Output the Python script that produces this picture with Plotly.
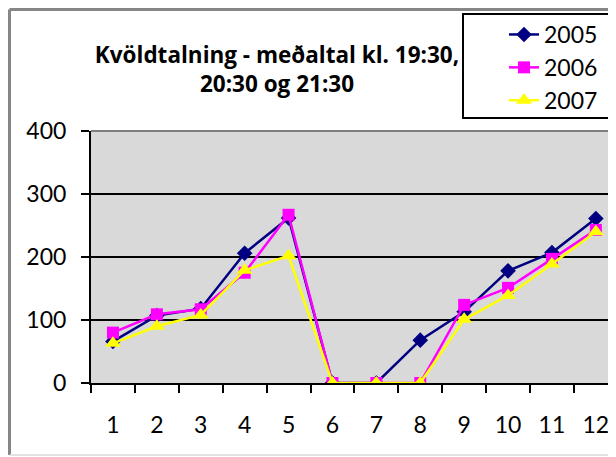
import plotly.graph_objects as go

months = [1, 2, 3, 4, 5, 6, 7, 8, 9, 10, 11, 12]
tick_labels = ["1", "2", "3", "4", "5", "6", "7", "8", "9", "10", "11", "12"]
s2005 = [66, 107, 118, 206, 262, 0, 0, 68, 113, 178, 207, 261]
s2006 = [80, 109, 117, 175, 267, 0, 0, 0, 124, 151, 197, 243]
s2007 = [63, 90, 108, 179, 202, 0, 0, 0, 101, 139, 189, 240]
y_ticks = [0, 100, 200, 300, 400]

# page body has an 8px margin: figure coordinates = page coordinates - 8
OFF = 8
W, H = 616 - OFF, 457 - OFF
L, T = 91 - OFF, 131 - OFF
R = 0
B = H - (383 - OFF)
PW, PH = W - L - R, H - T - B
CAT = 43.9


def px(x):
    return (x - OFF - L) / PW


def py(y):
    return (H - B - (y - OFF)) / PH


FONT = "Lato"

fig = go.Figure()
series = [
    ("2005", s2005, "#000080", "diamond", 12),
    ("2006", s2006, "#FF00FF", "square", 12),
    ("2007", s2007, "#FFFF00", "triangle-up", 14),
]
for name, vals, col, sym, size in series:
    fig.add_trace(go.Scatter(
        x=months, y=vals, name=name, mode="lines+markers",
        legendgroup=name,
        line=dict(color=col, width=2.5),
        marker=dict(symbol=sym, size=size, color=col, line=dict(width=0)),
    ))

shapes = [
    # outer chart border (as close to the page edge as the body margin allows)
    dict(type="line", xref="paper", yref="paper", x0=px(9.5), x1=px(630), y0=py(9.5), y1=py(9.5),
         line=dict(color="#868686", width=3)),
    dict(type="line", xref="paper", yref="paper", x0=px(9.5), x1=px(9.5), y0=py(9.5), y1=py(455),
         line=dict(color="#868686", width=3)),
    dict(type="line", xref="paper", yref="paper", x0=px(9.5), x1=px(630), y0=py(455), y1=py(455),
         line=dict(color="#d8d8d8", width=1.5)),
    # top edge of plot area
    dict(type="line", xref="paper", yref="paper", x0=0, x1=1, y0=1, y1=1,
         line=dict(color="#808080", width=2), layer="above"),
    # legend box
    dict(type="rect", xref="paper", yref="paper", x0=px(463), x1=px(609), y0=py(14), y1=py(118),
         line=dict(color="black", width=2)),
]

fig.update_layout(
    width=W, height=H,
    margin=dict(l=L, r=R, t=T, b=B, autoexpand=False),
    paper_bgcolor="white",
    plot_bgcolor="#d9d9d9",
    font=dict(family=FONT, size=23, color="black"),
    title=dict(
        text="<b>Kvöldtalning - meðaltal kl. 19:30,<br>20:30 og 21:30</b>",
        font=dict(family="Open Sans", size=22.5, color="black"),
        x=px(277), xanchor="center", xref="paper",
        y=1 - (62.5 - OFF) / H, yanchor="middle", yref="container",
    ),
    showlegend=True,
    legend=dict(
        x=px(603), xanchor="right", y=py(13), yanchor="top",
        bgcolor="rgba(0,0,0,0)", borderwidth=0,
        font=dict(family=FONT, size=23, color="black"),
        tracegroupgap=0,
    ),
    shapes=shapes,
    xaxis=dict(
        range=[0.5, 0.5 + PW / CAT],
        tickmode="array", tickvals=months, ticktext=tick_labels,
        ticks="", showgrid=False, zeroline=False,
        showline=True, linecolor="black", linewidth=2,
        ticklabelstandoff=20,
        minor=dict(ticks="outside", tick0=0.5, dtick=1, ticklen=8, tickcolor="black", tickwidth=1.5,
                   showgrid=False),
        tickfont=dict(family=FONT, size=23, color="black"),
    ),
    yaxis=dict(
        range=[0, 400],
        tickmode="array", tickvals=y_ticks,
        ticks="outside", ticklen=8, tickcolor="black", tickwidth=1.5,
        showgrid=True, gridcolor="black", gridwidth=1.5,
        zeroline=False,
        showline=True, linecolor="black", linewidth=2,
        ticklabelstandoff=10,
        tickfont=dict(family=FONT, size=23, color="black"),
    ),
)

fig.write_html("out.html")
